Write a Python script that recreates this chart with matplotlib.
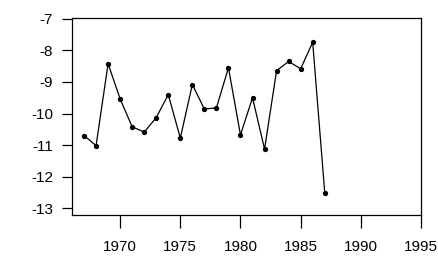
import matplotlib
matplotlib.use("Agg")
import matplotlib.pyplot as plt

years = [1967, 1968, 1969, 1970, 1971, 1972, 1973, 1974, 1975, 1976, 1977,
         1978, 1979, 1980, 1981, 1982, 1983, 1984, 1985, 1986, 1987]
values = [-10.70, -11.02, -8.42, -9.54, -10.42, -10.59, -10.13, -9.40, -10.78,
          -9.08, -9.86, -9.82, -8.55, -10.68, -9.50, -11.13, -8.64, -8.35,
          -8.58, -7.74, -12.51]
xticks = [1970, 1975, 1980, 1985, 1990, 1995]
yticks = [-7, -8, -9, -10, -11, -12, -13]

plt.rcParams['font.family'] = ['Liberation Sans', 'DejaVu Sans']
plt.rcParams['axes.unicode_minus'] = False

W, H = 439, 268
fig = plt.figure(figsize=(W / 100, H / 100), dpi=100)
ax = fig.add_axes([72 / W, 1 - 215 / H, (421 - 72) / W, (215 - 18) / H])
ax.plot(years, values, color='black', lw=0.9, marker='o', ms=2.8,
        mfc='black', mec='black')
ax.set_xlim(1966, 1995)
ax.set_ylim(-13.22, -6.97)
ax.set_xticks(xticks)
ax.set_xticklabels([str(t) for t in xticks])
ax.set_yticks(yticks)
ax.set_yticklabels([str(t) for t in yticks])
for s in ax.spines.values():
    s.set_linewidth(0.9)
ax.tick_params(axis='x', length=9.5, width=0.9, pad=8.5, labelsize=11, direction='out')
ax.tick_params(axis='y', length=7.5, width=0.9, pad=6, labelsize=11, direction='out')
fig.savefig('out.png', dpi=100)
